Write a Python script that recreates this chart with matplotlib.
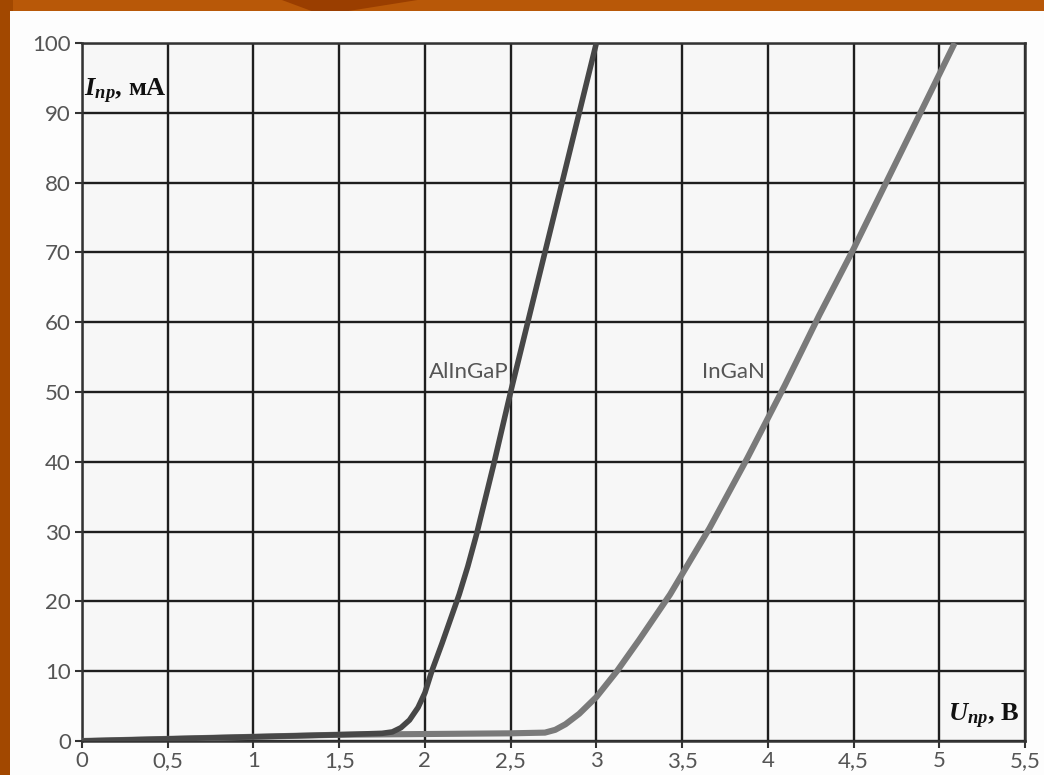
import matplotlib
matplotlib.use("Agg")
import matplotlib.pyplot as plt
from matplotlib.patches import Rectangle, Polygon

plt.rcParams['mathtext.fontset'] = 'custom'
plt.rcParams['mathtext.rm'] = 'Liberation Serif'
plt.rcParams['mathtext.it'] = 'Liberation Serif:italic'
plt.rcParams['mathtext.bf'] = 'Liberation Serif:bold'
plt.rcParams['mathtext.bfit'] = 'Liberation Serif:bold:italic'

# Data
alingap_v = [0, 0.5, 1.0, 1.5, 1.75, 1.81, 1.86, 1.91, 1.96, 2.0, 2.04, 2.1, 2.15, 2.2, 2.25, 2.3, 2.4, 2.5, 2.75, 3.0]
alingap_i = [0, 0.3, 0.6, 0.9, 1.1, 1.3, 1.9, 3.0, 4.8, 6.9, 10, 14, 17.5, 21, 25, 29.5, 39.5, 50, 75, 100]

ingan_v = [0, 0.5, 1.0, 1.5, 2.0, 2.5, 2.7, 2.76, 2.82, 2.9, 3.0, 3.12, 3.25, 3.43, 3.66, 3.88, 4.1, 4.3, 4.5, 4.7, 4.9, 5.09]
ingan_i = [0, 0.3, 0.6, 0.9, 1.0, 1.1, 1.2, 1.6, 2.4, 3.9, 6.3, 10, 14.5, 21, 30.5, 40.5, 51, 61, 70.5, 80.5, 90.5, 100]

x_ticks = [0, 0.5, 1, 1.5, 2, 2.5, 3, 3.5, 4, 4.5, 5, 5.5]
x_labels = ['0', '0,5', '1', '1,5', '2', '2,5', '3', '3,5', '4', '4,5', '5', '5,5']
y_ticks = [0, 10, 20, 30, 40, 50, 60, 70, 80, 90, 100]
y_labels = [str(v) for v in y_ticks]

fig = plt.figure(figsize=(10.44, 7.75), dpi=100)
fig.patch.set_facecolor('#B85808')
# decorative darker shapes on the orange background
fig.patches.append(Polygon([[0, 0], [0.012, 0], [0.012, 1], [0, 1]], closed=True,
                           transform=fig.transFigure, facecolor='#A24800', edgecolor='none', zorder=0))
fig.patches.append(Polygon([[0.27, 1], [0.40, 1], [0.33, 0.985], [0.30, 0.985]], closed=True,
                           transform=fig.transFigure, facecolor='#9A3E00', edgecolor='none', zorder=0))
fig.patches.append(Rectangle((10 / 1044, 0), 1 - 10 / 1044, 1 - 11 / 775,
                             transform=fig.transFigure, facecolor='#FDFDFD', edgecolor='none', zorder=1))

ax = fig.add_axes([82 / 1044, 1 - 741 / 775, (1025 - 82) / 1044, (741 - 43) / 775])
ax.set_zorder(2)
ax.set_facecolor('#F7F7F7')

ax.plot(ingan_v, ingan_i, color='#7A7A7A', lw=4.4, solid_capstyle='butt', solid_joinstyle='round', zorder=3)
ax.plot(alingap_v, alingap_i, color='#474747', lw=4.0, solid_capstyle='butt', solid_joinstyle='round', zorder=4)

ax.set_xlim(0, 5.5)
ax.set_ylim(0, 100)
ax.set_xticks(x_ticks)
ax.set_xticklabels(x_labels)
ax.set_yticks(y_ticks)
ax.set_yticklabels(y_labels)
ax.grid(True, color='#1E1E1E', lw=1.7)
ax.set_axisbelow(True)
for s in ax.spines.values():
    s.set_color('#333333')
    s.set_linewidth(1.8)

ax.tick_params(axis='both', colors='#333333', labelcolor='#555555', labelsize=16,
               length=5, width=1.5)
ax.tick_params(axis='x', pad=2)
ax.tick_params(axis='y', pad=3)
for lab in ax.get_xticklabels() + ax.get_yticklabels():
    lab.set_family('Lato')
    lab.set_fontweight('normal')

ax.text(2.485, 51.5, 'AlInGaP', ha='right', va='bottom', fontsize=16, color='#555555',
        family='Lato', fontweight='normal', zorder=5)
ax.text(3.98, 51.5, 'InGaN', ha='right', va='bottom', fontsize=16, color='#555555',
        family='Lato', fontweight='normal', zorder=5)

ax.text(0.01, 93, r'$\mathbfit{I}_{\mathbfit{пр}}$, мА', ha='left', va='center', fontsize=19,
        family='Liberation Serif', fontweight='bold', color='#111111', zorder=5)
ax.text(5.47, 3.5, r'$\mathbfit{U}_{\mathbfit{пр}}$, В', ha='right', va='center', fontsize=19,
        family='Liberation Serif', fontweight='bold', color='#111111', zorder=5)

fig.savefig('out.png', dpi=100, facecolor=fig.get_facecolor())
